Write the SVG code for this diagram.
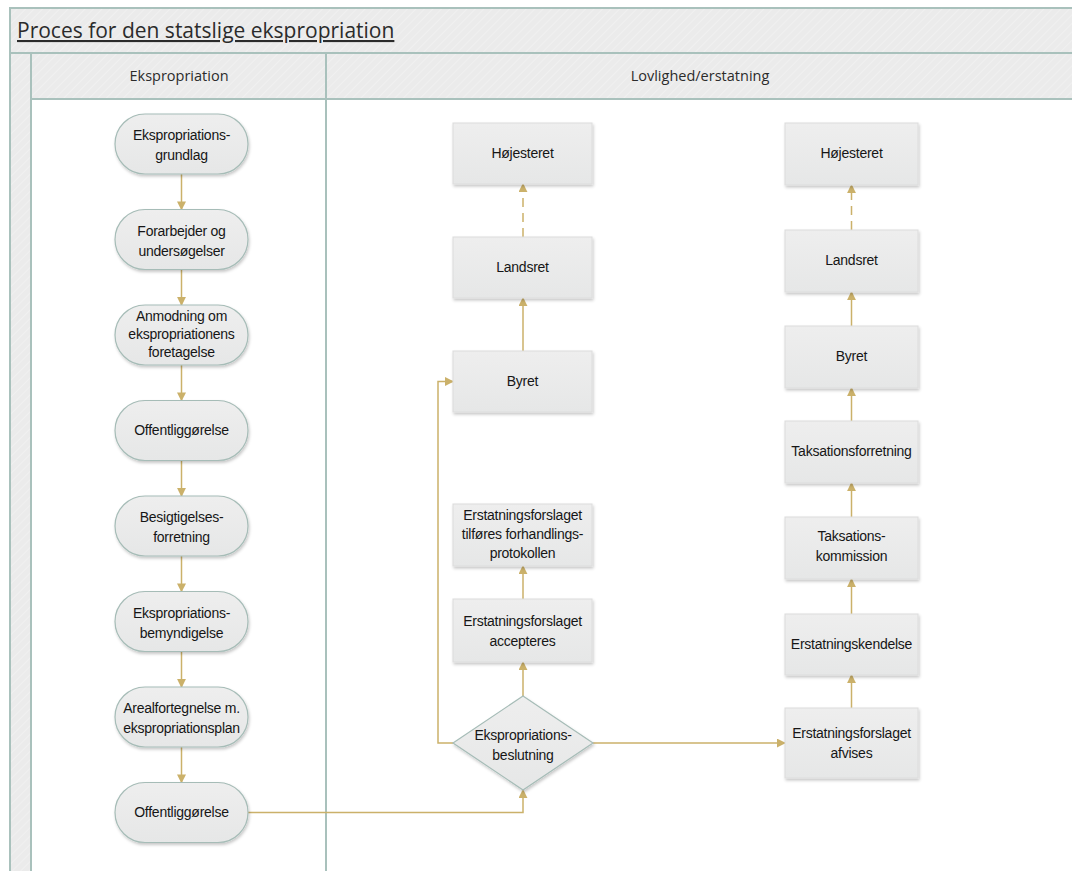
<svg xmlns="http://www.w3.org/2000/svg" width="1072" height="871" viewBox="0 0 1072 871">
  <style>
    .frame { fill: #ededed; stroke: #a9c1bc; stroke-width: 2; }
    .lane { fill: #ffffff; stroke: #a9c1bc; stroke-width: 2; }
    .title { font-family: "Open Sans", "Liberation Sans", sans-serif; font-size: 21px; fill: #2b2b2b; text-decoration: underline; }
    .lanehead { font-family: "Open Sans", "Liberation Sans", sans-serif; font-size: 14.5px; fill: #2b2b2b; text-anchor: middle; }
    .term { fill: url(#nodefill); stroke: #a6bcb7; stroke-width: 1.2; filter: url(#shadow); }
    .box { fill: url(#nodefill); stroke: #dcdcdc; stroke-width: 1; filter: url(#shadow); }
    .lbl { font-family: "Liberation Sans", Arial, sans-serif; font-size: 14px; fill: #161616; text-anchor: middle; letter-spacing: -0.25px; }
    .flow { fill: none; stroke: #cbb16a; stroke-width: 1.5; marker-end: url(#arrow); }
    .dash { stroke-dasharray: 9 6; }
  </style>
  <defs>
    <pattern id="hatch" width="6" height="6" patternUnits="userSpaceOnUse" patternTransform="rotate(45)">
      <rect width="6" height="6" fill="#ebebeb"/>
      <line x1="0" y1="0" x2="0" y2="6" stroke="#f0f0f0" stroke-width="2"/>
    </pattern>
    <linearGradient id="nodefill" x1="0" y1="0" x2="0" y2="1">
      <stop offset="0" stop-color="#eeeeee"/>
      <stop offset="1" stop-color="#e6e7e7"/>
    </linearGradient>
    <filter id="shadow" x="-10%" y="-10%" width="125%" height="130%">
      <feDropShadow dx="1" dy="2" stdDeviation="1.5" flood-color="#000" flood-opacity="0.22"/>
    </filter>
    <marker id="arrow" viewBox="0 0 10 10" refX="9" refY="5" markerWidth="6" markerHeight="6" markerUnits="strokeWidth" orient="auto">
      <path d="M0,0 L10,5 L0,10 z" fill="#cbb16a"/>
    </marker>
  </defs>

  <rect width="1072" height="871" fill="#ffffff"/>

  <!-- pool frame, title band and lane headers -->
  <g id="pool">
    <rect class="frame" x="10" y="8" width="1080" height="880" style="fill:url(#hatch)"/>
    <line x1="10" y1="53" x2="1072" y2="53" stroke="#a9c1bc" stroke-width="2"/>
    <text class="title" x="17" y="38">Proces for den statslige ekspropriation</text>
  </g>

  <g id="lane-ekspropriation">
    <rect class="lane" x="31" y="53" width="295" height="840"/>
    <rect x="31" y="53" width="295" height="46" fill="url(#hatch)" stroke="#a9c1bc" stroke-width="2"/>
    <text class="lanehead" x="179" y="81">Ekspropriation</text>
  </g>

  <g id="lane-lovlighed">
    <rect class="lane" x="326" y="53" width="770" height="840"/>
    <rect x="326" y="53" width="770" height="46" fill="url(#hatch)" stroke="#a9c1bc" stroke-width="2"/>
    <text class="lanehead" x="700" y="81">Lovlighed/erstatning</text>
  </g>

  <!-- connectors -->
  <g id="connectors">
    <path class="flow" d="M181.5,174 V209.5"/>
    <path class="flow" d="M181.5,269.5 V305"/>
    <path class="flow" d="M181.5,365 V400.5"/>
    <path class="flow" d="M181.5,460.5 V496"/>
    <path class="flow" d="M181.5,556 V591.5"/>
    <path class="flow" d="M181.5,651.5 V687"/>
    <path class="flow" d="M181.5,747 V782.5"/>
    <path class="flow" d="M248,812.5 H523 V790"/>
    <path class="flow" d="M523,696 V662"/>
    <path class="flow" d="M523,599 V566"/>
    <path class="flow" d="M453,743 H438 V381.5 H453"/>
    <path class="flow" d="M523,351 V298"/>
    <path class="flow dash" d="M523,237 V184"/>
    <path class="flow" d="M593,743 H785"/>
    <path class="flow" d="M851.5,708 V675"/>
    <path class="flow" d="M851.5,614 V579"/>
    <path class="flow" d="M851.5,517 V483"/>
    <path class="flow" d="M851.5,421 V388"/>
    <path class="flow" d="M851.5,326 V292"/>
    <path class="flow dash" d="M851.5,230 V185"/>
  </g>

  <!-- Ekspropriation lane -->
  <g id="n-grundlag">
    <rect class="term" x="115" y="114" width="133" height="60" rx="30"/>
    <text class="lbl" x="181.5" y="140">Ekspropriations-</text>
    <text class="lbl" x="181.5" y="160">grundlag</text>
  </g>
  <g id="n-forarbejder">
    <rect class="term" x="115" y="209.5" width="133" height="60" rx="30"/>
    <text class="lbl" x="181.5" y="235.5">Forarbejder og</text>
    <text class="lbl" x="181.5" y="255.5">undersøgelser</text>
  </g>
  <g id="n-anmodning">
    <rect class="term" x="115" y="305" width="133" height="60" rx="30"/>
    <text class="lbl" x="181.5" y="321">Anmodning om</text>
    <text class="lbl" x="181.5" y="339">ekspropriationens</text>
    <text class="lbl" x="181.5" y="357">foretagelse</text>
  </g>
  <g id="n-offentlig1">
    <rect class="term" x="115" y="400.5" width="133" height="60" rx="30"/>
    <text class="lbl" x="181.5" y="435">Offentliggørelse</text>
  </g>
  <g id="n-besigtigelse">
    <rect class="term" x="115" y="496" width="133" height="60" rx="30"/>
    <text class="lbl" x="181.5" y="522">Besigtigelses-</text>
    <text class="lbl" x="181.5" y="542">forretning</text>
  </g>
  <g id="n-bemyndigelse">
    <rect class="term" x="115" y="591.5" width="133" height="60" rx="30"/>
    <text class="lbl" x="181.5" y="617.5">Ekspropriations-</text>
    <text class="lbl" x="181.5" y="637.5">bemyndigelse</text>
  </g>
  <g id="n-arealfortegnelse">
    <rect class="term" x="115" y="687" width="133" height="60" rx="30"/>
    <text class="lbl" x="181.5" y="713">Arealfortegnelse m.</text>
    <text class="lbl" x="181.5" y="733">ekspropriationsplan</text>
  </g>
  <g id="n-offentlig2">
    <rect class="term" x="115" y="782.5" width="133" height="60" rx="30"/>
    <text class="lbl" x="181.5" y="817">Offentliggørelse</text>
  </g>

  <!-- Lovlighed/erstatning lane, acceptance branch -->
  <g id="n-hoejesteret1">
    <rect class="box" x="453" y="123" width="139" height="61"/>
    <text class="lbl" x="522.5" y="158">Højesteret</text>
  </g>
  <g id="n-landsret1">
    <rect class="box" x="453" y="237" width="139" height="61"/>
    <text class="lbl" x="522.5" y="272">Landsret</text>
  </g>
  <g id="n-byret1">
    <rect class="box" x="453" y="351" width="139" height="61"/>
    <text class="lbl" x="522.5" y="386">Byret</text>
  </g>
  <g id="n-tilfoeres">
    <rect class="box" x="453" y="504" width="139" height="62"/>
    <text class="lbl" x="522.5" y="520">Erstatningsforslaget</text>
    <text class="lbl" x="522.5" y="539">tilføres forhandlings-</text>
    <text class="lbl" x="522.5" y="558">protokollen</text>
  </g>
  <g id="n-accepteres">
    <rect class="box" x="453" y="599" width="139" height="63"/>
    <text class="lbl" x="522.5" y="626">Erstatningsforslaget</text>
    <text class="lbl" x="522.5" y="646">accepteres</text>
  </g>
  <g id="n-beslutning">
    <polygon class="term" points="523,696 593,743 523,790 453,743"/>
    <text class="lbl" x="523" y="740">Ekspropriations-</text>
    <text class="lbl" x="523" y="760">beslutning</text>
  </g>

  <!-- rejection branch -->
  <g id="n-hoejesteret2">
    <rect class="box" x="785" y="123" width="133" height="62"/>
    <text class="lbl" x="851.5" y="158">Højesteret</text>
  </g>
  <g id="n-landsret2">
    <rect class="box" x="785" y="230" width="133" height="62"/>
    <text class="lbl" x="851.5" y="265">Landsret</text>
  </g>
  <g id="n-byret2">
    <rect class="box" x="785" y="326" width="133" height="62"/>
    <text class="lbl" x="851.5" y="361">Byret</text>
  </g>
  <g id="n-taksationsforretning">
    <rect class="box" x="785" y="421" width="133" height="62"/>
    <text class="lbl" x="851.5" y="456">Taksationsforretning</text>
  </g>
  <g id="n-taksationskommission">
    <rect class="box" x="785" y="517" width="133" height="62"/>
    <text class="lbl" x="851.5" y="541">Taksations-</text>
    <text class="lbl" x="851.5" y="561">kommission</text>
  </g>
  <g id="n-kendelse">
    <rect class="box" x="785" y="614" width="133" height="61"/>
    <text class="lbl" x="851.5" y="649">Erstatningskendelse</text>
  </g>
  <g id="n-afvises">
    <rect class="box" x="785" y="708" width="133" height="70"/>
    <text class="lbl" x="851.5" y="738">Erstatningsforslaget</text>
    <text class="lbl" x="851.5" y="758">afvises</text>
  </g>
</svg>
